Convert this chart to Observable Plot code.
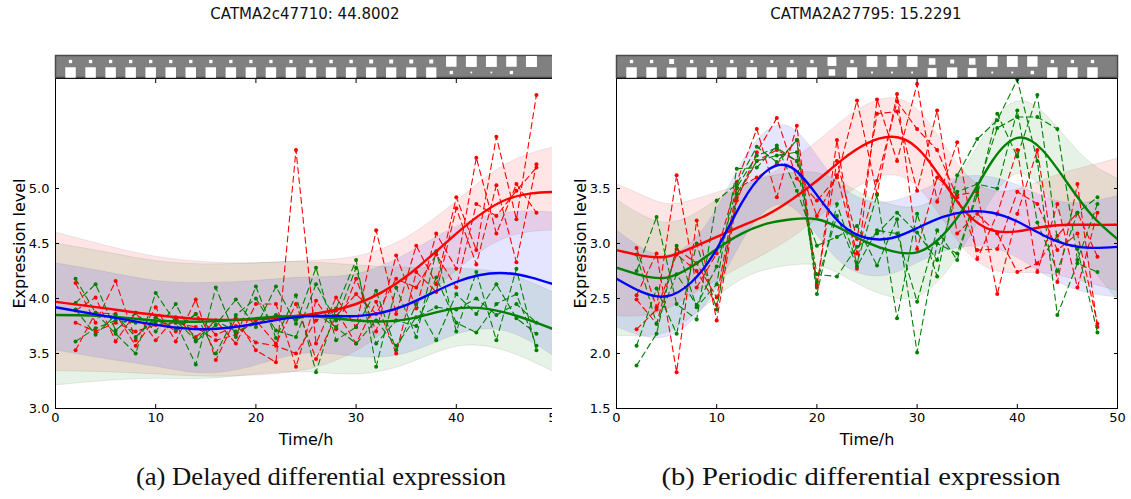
<!DOCTYPE html>
<html><head><meta charset="utf-8">
<script src="https://cdn.jsdelivr.net/npm/d3@7"></script>
<script src="https://cdn.jsdelivr.net/npm/@observablehq/plot@0.6"></script>
<style>
body{margin:0;background:#fff;width:1131px;height:499px;position:relative;overflow:hidden;font-family:"DejaVu Sans",sans-serif;}
.abs{position:absolute;}
.title{position:absolute;top:5px;font:15px "DejaVu Sans",sans-serif;color:#111;transform:translateX(-50%);white-space:nowrap;}
.caption{position:absolute;top:462px;font:26px "Liberation Serif",serif;color:#111;white-space:nowrap;}
svg [aria-label="x-axis label"], svg [aria-label="y-axis label"]{font-size:16px;}
</style></head><body>
<script>
// ---------- data ----------
const titles = ["CATMA2c47710: 44.8002", "CATMA2A27795: 15.2291"];
const captions = ["(a) Delayed differential expression", "(b) Periodic differential expression"];
const xTicks = [0, 10, 20, 30, 40, 50];
const leftYTicks = [3.0, 3.5, 4.0, 4.5, 5.0];
const rightYTicks = [1.5, 2.0, 2.5, 3.0, 3.5];
const times = [2,4,6,8,10,12,14,16,18,20,22,24,26,28,30,32,34,36,38,40,42,44,46,48];

// left panel: GP mean & confidence bands
const leftT = [0,5,10,15,20,25,30,35,40,45,50];
const leftRedMean = [3.97,3.91,3.85,3.81,3.81,3.85,3.95,4.20,4.59,4.90,4.97];
const leftRedHi   = [4.60,4.48,4.38,4.33,4.32,4.34,4.38,4.55,4.88,5.22,5.38];
const leftRedLo   = [3.34,3.33,3.31,3.29,3.30,3.35,3.52,3.85,4.25,4.55,4.62];
const leftBlueMean= [3.92,3.84,3.76,3.72,3.77,3.84,3.84,3.94,4.15,4.23,4.12];
const leftBlueHi  = [4.32,4.24,4.16,4.14,4.16,4.19,4.22,4.40,4.65,4.78,4.78];
const leftBlueLo  = [3.53,3.45,3.38,3.32,3.39,3.50,3.47,3.50,3.67,3.70,3.46];
const leftGreenMean=[3.85,3.84,3.80,3.79,3.82,3.84,3.80,3.81,3.91,3.87,3.71];
const leftGreenHi = [4.50,4.42,4.34,4.31,4.32,4.33,4.30,4.28,4.27,4.22,4.04];
const leftGreenLo = [3.21,3.25,3.27,3.27,3.31,3.33,3.31,3.40,3.56,3.52,3.32];

// left panel: replicates
const leftRed1 = [4.14,3.78,4.16,3.62,3.92,3.61,3.99,3.44,3.82,3.53,3.42,5.35,3.59,4.01,3.74,4.62,3.86,4.48,4.13,4.92,4.44,5.47,4.72,5.85];
const leftRed2 = [3.89,4.01,3.61,3.87,3.62,3.83,3.65,3.80,3.59,3.95,3.95,3.38,3.98,3.72,4.18,3.70,4.39,3.91,4.59,4.27,5.28,4.59,5.04,4.78];
const leftRed3 = [3.53,3.87,3.86,3.57,3.83,3.70,3.86,3.67,3.75,3.60,3.57,3.50,3.80,3.89,3.59,3.97,3.50,4.24,4.06,4.82,4.31,5.03,4.33,5.22];
const leftRed4 = [3.78,3.70,3.78,3.70,3.76,3.78,3.74,3.62,3.67,3.80,3.59,3.95,3.45,3.84,4.04,3.86,4.18,4.10,4.40,4.10,4.86,4.75,4.98,5.19];
const leftGreen1 = [4.18,3.87,3.68,3.50,4.05,3.78,3.40,4.10,3.65,4.11,3.64,4.03,3.33,3.91,4.35,3.38,4.10,3.65,4.43,3.70,4.24,3.62,4.27,3.53];
const leftGreen2 = [3.96,4.13,3.71,3.87,3.70,3.95,3.61,3.76,3.99,3.74,4.11,3.77,4.28,3.62,3.74,4.07,3.53,3.95,3.62,4.04,3.86,4.13,3.82,3.68];
const leftGreen3 = [3.90,3.67,3.85,3.65,3.83,3.72,3.86,3.50,3.85,4.00,3.71,3.65,4.13,3.80,4.28,3.59,3.80,3.75,4.19,3.78,3.69,3.95,4.04,3.57];
const leftGreen4 = [3.61,3.73,3.80,3.78,3.78,3.80,3.62,3.80,3.70,3.77,3.85,3.81,3.86,3.74,3.59,3.80,3.57,3.83,3.92,3.90,4.00,3.85,3.95,3.78];

// right panel: GP mean & confidence bands
const rightT = [0,2.5,5,7.5,10,12.5,15,17.5,20,22.5,25,27.5,30,32.5,35,37.5,40,42.5,45,47.5,50];
const rightRedMean = [2.94,2.89,2.88,2.96,3.06,3.16,3.26,3.40,3.57,3.76,3.91,3.97,3.87,3.58,3.27,3.12,3.11,3.15,3.17,3.17,3.17];
const rightRedHi   = [3.54,3.44,3.36,3.39,3.46,3.53,3.61,3.75,3.92,4.11,4.26,4.32,4.22,3.93,3.62,3.48,3.49,3.57,3.65,3.71,3.77];
const rightRedLo   = [2.34,2.34,2.40,2.53,2.66,2.79,2.91,3.05,3.22,3.41,3.56,3.62,3.52,3.23,2.92,2.76,2.73,2.73,2.69,2.63,2.57];
const rightBlueMean= [2.68,2.56,2.52,2.65,2.95,3.37,3.66,3.69,3.44,3.17,3.05,3.05,3.14,3.24,3.29,3.28,3.20,3.08,2.99,2.96,2.97];
const rightBlueHi  = [3.12,2.96,2.89,3.01,3.31,3.73,4.02,4.05,3.80,3.52,3.39,3.38,3.46,3.56,3.61,3.60,3.53,3.43,3.37,3.38,3.43];
const rightBlueLo  = [2.24,2.16,2.15,2.29,2.59,3.01,3.30,3.33,3.08,2.82,2.71,2.72,2.82,2.92,2.97,2.96,2.87,2.73,2.61,2.54,2.51];
const rightGreenMean=[2.78,2.71,2.69,2.79,2.95,3.09,3.18,3.22,3.22,3.13,3.01,2.93,2.92,3.07,3.37,3.75,3.96,3.85,3.55,3.25,3.04];
const rightGreenHi = [3.40,3.26,3.19,3.25,3.39,3.51,3.60,3.64,3.64,3.55,3.43,3.35,3.33,3.45,3.72,4.09,4.29,4.20,3.95,3.72,3.59];
const rightGreenLo = [2.16,2.16,2.19,2.33,2.51,2.67,2.76,2.80,2.80,2.71,2.59,2.51,2.51,2.69,3.02,3.41,3.63,3.50,3.15,2.78,2.49];

// right panel: replicates
const rightRed1 = [2.96,2.42,3.62,2.60,2.91,3.56,4.04,3.42,4.07,2.60,3.94,2.77,4.31,3.75,4.45,3.38,3.92,2.86,3.27,3.85,2.74,3.36,2.60,3.28];
const rightRed2 = [2.53,2.91,1.83,3.21,2.30,3.39,3.83,4.14,3.59,3.39,3.60,4.30,3.45,4.36,2.95,3.60,3.44,3.47,2.54,3.27,3.85,2.65,3.54,2.24];
const rightRed3 = [2.49,2.27,2.95,2.82,2.51,3.50,3.60,3.72,3.94,2.62,3.75,3.04,4.18,4.20,3.48,4.21,3.09,3.27,3.09,2.74,2.82,3.07,3.28,2.88];
const rightRed4 = [2.22,2.40,2.90,2.75,2.44,3.42,3.75,3.85,3.75,3.25,3.62,2.91,3.57,4.29,4.04,3.85,3.42,2.94,2.95,3.47,3.36,2.94,3.09,2.27];
const rightGreen1 = [2.75,3.24,2.45,2.31,3.39,3.54,3.88,3.74,3.94,2.54,3.36,2.82,3.44,2.32,3.27,2.70,3.62,3.95,4.12,4.49,3.75,2.35,2.82,2.74];
const rightGreen2 = [1.89,2.18,2.98,2.42,2.63,3.68,3.69,3.89,3.48,2.98,3.06,3.16,2.80,3.22,2.01,3.00,2.91,3.44,4.18,3.79,4.35,3.03,2.95,2.19];
const rightGreen3 = [2.07,2.59,2.18,3.00,2.40,3.45,3.75,3.80,3.83,2.72,2.70,2.97,3.09,3.28,3.10,2.85,3.47,3.54,3.50,4.21,3.19,2.75,3.28,3.42];
const rightGreen4 = [2.90,2.27,2.72,2.44,2.79,3.51,3.80,3.87,3.75,2.65,3.25,2.79,3.12,3.09,2.47,3.12,2.85,3.50,4.05,4.15,4.15,4.04,2.85,3.36];

// strips above the plots (probability of each state per time)
const stripT = [1.5,3.5,5.5,7.5,9.5,11.5,13.5,15.5,17.5,19.5,21.5,23.5,25.5,27.5,29.5,31.5,33.5,35.5,37.5,39.5,41.5,43.5,45.5,47.5];
const leftStripTop    = [0.09,0.09,0.09,0.09,0.09,0.09,0.09,0.09,0.09,0.09,0.09,0.09,0.10,0.10,0.10,0.13,0.13,0.13,0.13,0.91,0.975,0.975,0.91,1.0];
const leftStripBottom = [0.91,0.91,0.91,0.91,0.91,0.91,0.91,0.91,0.91,0.91,0.91,0.91,0.90,0.90,0.90,0.87,0.87,0.87,0.87,0.09,0.025,0.025,0.09,0.0];
const rightStripTop    = [0.09,0.09,0.20,0.09,0.07,0.09,0.07,0.07,0.09,0.09,0.65,0.09,0.97,0.97,0.97,0.35,0.13,0.35,0.97,0.97,0.90,0.09,0.09,0.09];
const rightStripBottom = [0.91,0.91,0.80,0.91,0.93,0.91,0.93,0.93,0.91,0.91,0.35,0.91,0.03,0.03,0.03,0.65,0.87,0.65,0.03,0.03,0.10,0.91,0.91,0.91];

// ---------- helpers ----------
const RED = "#ff0000", GREEN = "#008000", BLUE = "#0000ff";
const bandRows = (t, lo, hi) => t.map((x, i) => ({t: x, lo: lo[i], hi: hi[i]}));
const lineRows = (t, v) => t.map((x, i) => ({t: x, v: v[i]}));
const repRows = (arrs) => arrs.flatMap((a, k) => a.map((v, i) => ({t: times[i], v, rep: k})));
const stripRows = (top, bottom) => stripT.flatMap((t, i) => [{t, row: "top", p: top[i]}, {t, row: "bottom", p: bottom[i]}]);

const W = 568, ML = 55, MR = 12;

function stripPlot(top, bottom) {
  return Plot.plot({
    width: W, height: 22, marginLeft: ML, marginRight: MR, marginTop: 0, marginBottom: 0,
    x: {domain: [0, 50], axis: null},
    y: {type: "point", domain: ["top", "bottom"], range: [5.5, 16.5], padding: 0, axis: null},
    r: {type: "sqrt", domain: [0, 1], range: [0, 6.2]},
    style: {background: "transparent", overflow: "visible"},
    marks: [
      Plot.frame({fill: "#808080", stroke: "#4a4a4a", strokeWidth: 1.5}),
      Plot.dot(stripRows(top, bottom), {x: "t", y: "row", r: "p", symbol: "square", fill: "white", stroke: "none"})
    ]
  });
}

function mainPlot(c) {
  const repStyle = {x: "t", y: "v", z: "rep", strokeWidth: 1.1, strokeDasharray: "6,4", clip: true};
  const dotStyle = {x: "t", y: "v", r: 2, clip: true};
  const meanStyle = {x: "t", y: "v", strokeWidth: 2.4, curve: "natural", clip: true};
  const bandStyle = {x: "t", y1: "lo", y2: "hi", fillOpacity: 0.1, curve: "natural", stroke: "#777", strokeOpacity: 0.15, clip: true};
  return Plot.plot({
    width: W, height: 391, marginLeft: ML, marginRight: MR, marginTop: 1, marginBottom: 60,
    x: {domain: [0, 50]},
    y: {domain: c.yDomain},
    style: {fontFamily: "DejaVu Sans", fontSize: "13px", color: "#000", background: "transparent"},
    marks: [
      Plot.areaY(bandRows(c.bt, c.redLo, c.redHi), {...bandStyle, fill: RED}),
      Plot.areaY(bandRows(c.bt, c.greenLo, c.greenHi), {...bandStyle, fill: GREEN}),
      Plot.areaY(bandRows(c.bt, c.blueLo, c.blueHi), {...bandStyle, fill: BLUE}),
      Plot.line(repRows(c.redReps), {...repStyle, stroke: RED}),
      Plot.dot(repRows(c.redReps), {...dotStyle, fill: RED}),
      Plot.line(repRows(c.greenReps), {...repStyle, stroke: GREEN}),
      Plot.dot(repRows(c.greenReps), {...dotStyle, fill: GREEN}),
      Plot.line(lineRows(c.bt, c.redMean), {...meanStyle, stroke: RED}),
      Plot.line(lineRows(c.bt, c.greenMean), {...meanStyle, stroke: GREEN}),
      Plot.line(lineRows(c.bt, c.blueMean), {...meanStyle, stroke: BLUE}),
      Plot.frame({stroke: "#000", strokeWidth: 1}),
      Plot.axisX({ticks: xTicks, anchor: "bottom", tickSize: -4, tickPadding: 8, label: "Time/h", labelAnchor: "center", labelArrow: "none", labelOffset: 36}),
      Plot.axisX({ticks: xTicks, anchor: "top", tickSize: -4, tickFormat: () => "", label: null}),
      Plot.axisY({ticks: c.yTicks, anchor: "left", tickSize: -4, tickPadding: 10, tickFormat: d3.format(".1f"), label: "Expression level", labelAnchor: "center", labelArrow: "none", labelOffset: 42}),
      Plot.axisY({ticks: c.yTicks, anchor: "right", tickSize: -4, tickFormat: () => "", label: null})
    ]
  });
}

const panels = [
  {left: 0, clip: 552, yDomain: [3, 6], yTicks: leftYTicks, bt: leftT,
   redMean: leftRedMean, redLo: leftRedLo, redHi: leftRedHi,
   greenMean: leftGreenMean, greenLo: leftGreenLo, greenHi: leftGreenHi,
   blueMean: leftBlueMean, blueLo: leftBlueLo, blueHi: leftBlueHi,
   redReps: [leftRed1, leftRed2, leftRed3, leftRed4],
   greenReps: [leftGreen1, leftGreen2, leftGreen3, leftGreen4],
   stripTop: leftStripTop, stripBottom: leftStripBottom, titleX: 305, capX: 321, capScale: 1.025},
  {left: 561, clip: W, yDomain: [1.5, 4.5], yTicks: rightYTicks, bt: rightT,
   redMean: rightRedMean, redLo: rightRedLo, redHi: rightRedHi,
   greenMean: rightGreenMean, greenLo: rightGreenLo, greenHi: rightGreenHi,
   blueMean: rightBlueMean, blueLo: rightBlueLo, blueHi: rightBlueHi,
   redReps: [rightRed1, rightRed2, rightRed3, rightRed4],
   greenReps: [rightGreen1, rightGreen2, rightGreen3, rightGreen4],
   stripTop: rightStripTop, stripBottom: rightStripBottom, titleX: 866, capX: 861, capScale: 1.1}
];

panels.forEach((c, i) => {
  const wrap = document.createElement("div");
  wrap.className = "abs";
  wrap.style.cssText = `left:${c.left}px;top:0;width:${c.clip}px;height:499px;overflow:hidden;`;
  const m = mainPlot(c);
  m.style.position = "absolute"; m.style.left = "0px"; m.style.top = "77px"; m.style.maxWidth = "none";
  const s = stripPlot(c.stripTop, c.stripBottom);
  s.style.position = "absolute"; s.style.left = "0px"; s.style.top = "55px"; s.style.maxWidth = "none";
  wrap.appendChild(m); wrap.appendChild(s);
  document.body.appendChild(wrap);

  const t = document.createElement("div");
  t.className = "title"; t.style.left = c.titleX + "px"; t.textContent = titles[i];
  document.body.appendChild(t);
  const cap = document.createElement("div");
  cap.className = "caption"; cap.style.left = c.capX + "px";
  cap.style.transform = `translateX(-50%) scaleX(${c.capScale})`;
  cap.textContent = captions[i];
  document.body.appendChild(cap);
});
</script>
</body></html>
